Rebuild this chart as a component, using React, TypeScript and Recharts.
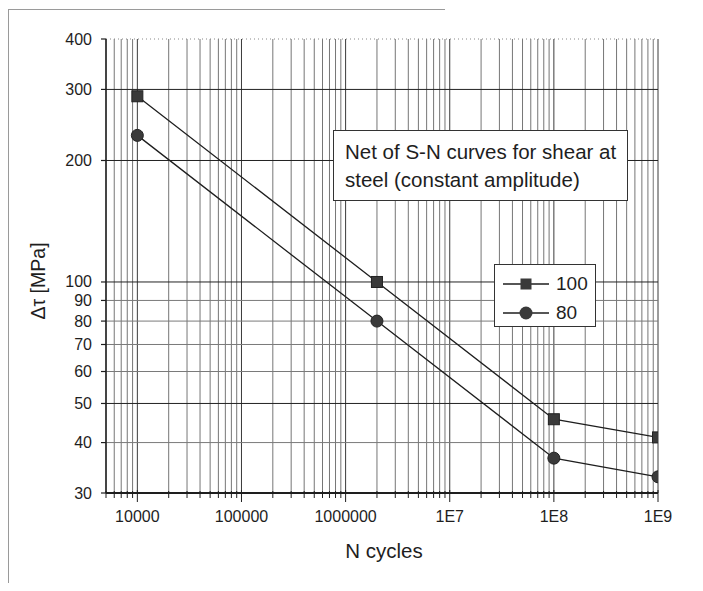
import { LineChart, Line, XAxis, YAxis, ReferenceLine, Legend } from 'recharts';

// S-N curves for shear, constant amplitude
const CYCLES = [1e4, 2e6, 1e8, 1e9];
const CURVE_100 = [288.5, 100, 45.7, 41.2];
const CURVE_80 = [230.8, 80, 36.6, 32.9];

const X_DECADES = [1e4, 1e5, 1e6, 1e7, 1e8, 1e9];
const X_LABELS = ['10000', '100000', '1000000', '1E7', '1E8', '1E9'];
const Y_TICKS = [30, 40, 50, 60, 70, 80, 90, 100, 200, 300, 400];
const Y_MAJOR = [50, 100, 200, 300];
const Y_MINOR = [40, 60, 70, 80, 90];

const X_MIN = 5000;
const X_MAX = 1e9;

// minor log ticks 2..9 in each decade, used for ticks and grid
const X_MINOR: number[] = [];
for (let d = 1e3; d <= 1e9; d *= 10) {
  for (let m = 1; m <= 9; m++) {
    const v = d * m;
    if (v >= X_MIN && v <= X_MAX) X_MINOR.push(v);
  }
}

const data = CYCLES.map((n, i) => ({ n, c100: CURVE_100[i], c80: CURVE_80[i] }));

const FONT = '"Liberation Sans", Arial, sans-serif';
const INK = '#1e1e1e';

const XTick = (props: any) => {
  const { x, y, payload } = props;
  const idx = X_DECADES.indexOf(payload.value);
  const isDecade = idx >= 0;
  return (
    <g>
      <line x1={x} x2={x} y1={y - (isDecade ? 3 : 2)} y2={y + (isDecade ? 9 : 5)} stroke={INK} strokeWidth={1} />
      {isDecade && (
        <text x={x} y={y + 23} textAnchor="middle" dominantBaseline="central" fontSize={16} fill={INK} fontFamily={FONT}>
          {X_LABELS[idx]}
        </text>
      )}
    </g>
  );
};

const YTick = (props: any) => {
  const { x, y, payload } = props;
  return (
    <g>
      <line x1={x - 5} x2={x} y1={y} y2={y} stroke={INK} strokeWidth={1.2} />
      <text x={x - 14} y={y} textAnchor="end" dominantBaseline="central" fontSize={16} fill={INK} fontFamily={FONT}>
        {payload.value}
      </text>
    </g>
  );
};

const SquareDot = (props: any) => {
  const { cx, cy, index } = props;
  return <rect key={`sq-${index}`} x={cx - 5.5} y={cy - 5.5} width={11} height={11} fill="#3a3a3a" stroke="#222" strokeWidth={1} />;
};

const LegendBox = () => (
  <div
    style={{
      border: '1px solid #333',
      background: '#fff',
      width: 102,
      height: 63,
      boxSizing: 'border-box',
      padding: '4px 0 0 8px',
      fontFamily: FONT,
      fontSize: 19,
      color: INK,
    }}
  >
    {[
      { name: '100', shape: 'square' },
      { name: '80', shape: 'circle' },
    ].map((it) => (
      <div key={it.name} style={{ display: 'flex', alignItems: 'center', height: 29 }}>
        <svg width={46} height={14} style={{ marginRight: 7 }}>
          <line x1={0} x2={46} y1={7} y2={7} stroke={INK} strokeWidth={1.4} />
          {it.shape === 'square' ? (
            <rect x={17.5} y={1.5} width={11} height={11} fill="#3a3a3a" />
          ) : (
            <circle cx={23} cy={7} r={6.5} fill="#3a3a3a" />
          )}
        </svg>
        <span>{it.name}</span>
      </div>
    ))}
  </div>
);

export default function App() {
  return (
    <div style={{ position: 'relative', width: 687, height: 575 }}>
      <div style={{ position: 'absolute', left: 0, top: 1, width: 437, height: 1, background: '#9a9a9a' }} />
      <div style={{ position: 'absolute', left: 0, top: 1, width: 1, height: 574, background: '#9a9a9a' }} />
      <LineChart width={687} height={575} data={data} margin={{ top: 31, right: 37, left: 0, bottom: 20 }}>
        {X_MINOR.map((v) => (
          <ReferenceLine
            key={`vx-${v}`}
            x={v}
            stroke={X_DECADES.includes(v) ? '#3a3a3a' : '#767676'}
            strokeWidth={1}
          />
        ))}
        {Y_MINOR.map((v) => (
          <ReferenceLine key={`hy-${v}`} y={v} stroke="#7a7a7a" strokeWidth={1} />
        ))}
        {Y_MAJOR.map((v) => (
          <ReferenceLine key={`hm-${v}`} y={v} stroke="#222" strokeWidth={1} />
        ))}
        <ReferenceLine y={400} stroke="#888" strokeDasharray="1 3" />
        <XAxis
          type="number"
          dataKey="n"
          scale="log"
          domain={[X_MIN, X_MAX]}
          allowDataOverflow
          ticks={X_MINOR}
          interval={0}
          tick={<XTick />}
          tickLine={false}
          tickSize={0}
          tickMargin={0}
          axisLine={{ stroke: INK, strokeWidth: 2 }}
          height={70}
          label={{
            content: (p: any) => {
              const vb = p.viewBox;
              return (
                <text x={vb.x + vb.width / 2 + 2} y={vb.y + 57} textAnchor="middle" dominantBaseline="central" fontSize={20.5} fill={INK} fontFamily={FONT}>
                  N cycles
                </text>
              );
            },
          }}
        />
        <YAxis
          type="number"
          scale="log"
          domain={[30, 400]}
          allowDataOverflow
          ticks={Y_TICKS}
          interval={0}
          tick={<YTick />}
          tickLine={false}
          tickSize={0}
          tickMargin={0}
          axisLine={{ stroke: INK, strokeWidth: 1.5 }}
          width={98}
          label={{
            content: (p: any) => {
              const vb = p.viewBox;
              const cx = vb.x + 30;
              const cy = vb.y + vb.height / 2 + 15;
              return (
                <text x={cx} y={cy} transform={`rotate(-90 ${cx} ${cy})`} textAnchor="middle" dominantBaseline="central" fontSize={19.5} fill={INK} fontFamily={FONT}>
                  Δτ [MPa]
                </text>
              );
            },
          }}
        />
        <Line
          type="linear"
          dataKey="c100"
          name="100"
          stroke={INK}
          strokeWidth={1.3}
          dot={SquareDot}
          isAnimationActive={false}
        />
        <Line
          type="linear"
          dataKey="c80"
          name="80"
          stroke={INK}
          strokeWidth={1.3}
          dot={{ r: 6, fill: '#3a3a3a', stroke: '#222', strokeWidth: 1 }}
          isAnimationActive={false}
        />
        <Legend
          layout="horizontal"
          verticalAlign="middle"
          align="center"
          content={() => <LegendBox />}
          wrapperStyle={{ left: 486, top: 256, width: 102, height: 63 }}
        />
      </LineChart>
      <div
        style={{
          position: 'absolute',
          left: 325,
          top: 122,
          width: 295,
          height: 71,
          boxSizing: 'border-box',
          border: '1px solid #333',
          background: '#fff',
          padding: '7px 0 0 11px',
          fontFamily: FONT,
          fontSize: 20.5,
          lineHeight: '28px',
          color: INK,
          whiteSpace: 'nowrap',
        }}
      >
        Net of S-N curves for shear at
        <br />
        steel (constant amplitude)
      </div>
    </div>
  );
}
